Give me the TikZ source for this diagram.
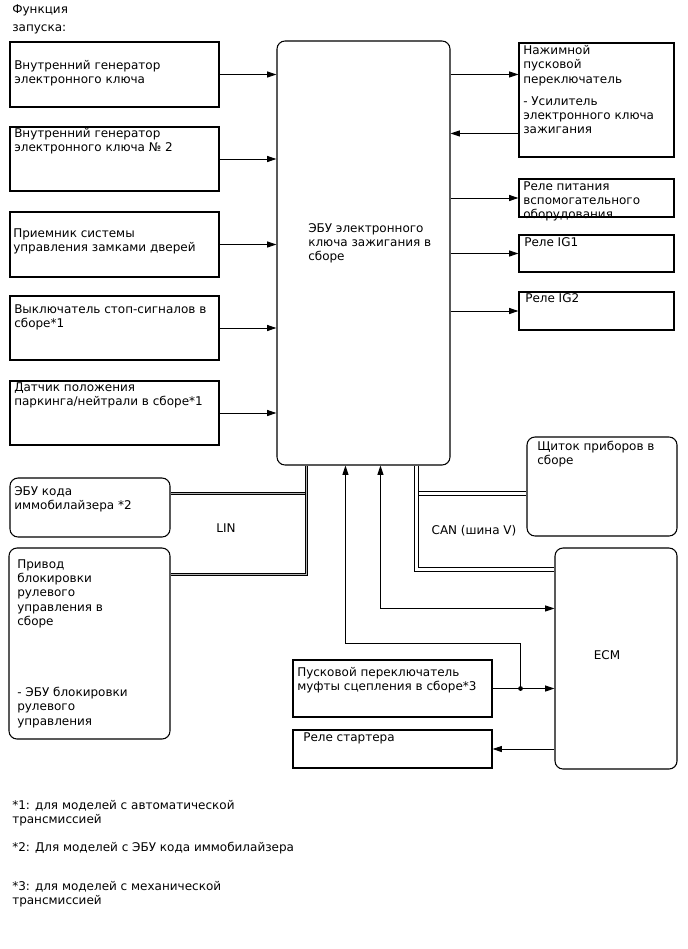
\documentclass[tikz,border=0pt]{standalone}
\usepackage{fontspec}
\setmainfont{DejaVu Sans}
\usetikzlibrary{arrows.meta,fit,calc}

\begin{document}
\begin{tikzpicture}[x=0.75pt,y=-0.75pt,
  font=\fontsize{9}{10.8}\selectfont,
  box/.style={draw,line width=0.8pt,inner sep=0pt},
  rbox/.style={box,rounded corners=6pt},
  txt/.style={anchor=north west,align=left,inner sep=0pt},
  arr/.style={line width=0.7pt,-{Triangle[length=7pt,width=4.5pt]}},
  arrboth/.style={line width=0.7pt,{Triangle[length=7pt,width=4.5pt]}-{Triangle[length=7pt,width=4.5pt]}},
  linbus/.style={draw=black,double=gray!60,double distance=1.2pt,line width=0.8pt},
  canbus/.style={draw=black,double=white,double distance=1.8pt,line width=0.8pt}]
  \useasboundingbox (0,0) rectangle (688,949);

  % boxes
  \node[box,fit={(10,42) (219,107)}] (gen1) {};
  \node[box,fit={(10,127) (219,191)}] (gen2) {};
  \node[box,fit={(10,212) (219,277)}] (rcv) {};
  \node[box,fit={(10,296) (219,360)}] (stop) {};
  \node[box,fit={(10,381) (219,445)}] (park) {};
  \node[rbox,fit={(277,41) (450,465)}] (ecu) {};
  \node[box,fit={(519,43) (674,157)}] (push) {};
  \node[box,fit={(519,179) (674,217)}] (acc) {};
  \node[box,fit={(519,235) (674,272)}] (ig1) {};
  \node[box,fit={(519,292) (674,330)}] (ig2) {};
  \node[rbox,fit={(10,478) (170,537)}] (imm) {};
  \node[rbox,fit={(9,548) (170,739)}] (lock) {};
  \node[rbox,fit={(527,437) (677,536)}] (cluster) {};
  \node[rbox,fit={(555,548) (677,769)}] (ecm) {};
  \node[box,fit={(293,660) (492,717)}] (clutch) {};
  \node[box,fit={(293,730) (492,768)}] (starter) {};

  % texts
  \node[txt] (title) at (12,4) {Функция\\[3pt]запуска:};
  \node[txt] (gen1t) at (14,60) {Внутренний генератор\\электронного ключа};
  \node[txt] (gen2t) at (14,128) {Внутренний генератор\\электронного ключа № 2};
  \node[txt] (rcvt) at (13,228) {Приемник системы\\управления замками дверей};
  \node[txt] (stopt) at (14,304) {Выключатель стоп-сигналов в\\сборе*1};
  \node[txt] (parkt) at (14,382) {Датчик положения\\паркинга/нейтрали в сборе*1};
  \node[txt] (ecut) at (308,223) {ЭБУ электронного\\ключа зажигания в\\сборе};
  \node[txt] (pusht) at (523,45) {Нажимной\\пусковой\\переключатель\\[5.6pt]- Усилитель\\электронного ключа\\зажигания};
  \node[txt] (acct) at (523,181) {Реле питания\\вспомогательного\\оборудования};
  \node[txt] (ig1t) at (524,237) {Реле IG1};
  \node[txt] (ig2t) at (525,293) {Реле IG2};
  \node[txt] (immt) at (14,486) {ЭБУ кода\\иммобилайзера *2};
  \node[txt] (lockt) at (17,559) {Привод\\блокировки\\рулевого\\управления в\\сборе};
  \node[txt] (lockecu) at (17,687) {- ЭБУ блокировки\\рулевого\\управления};
  \node[txt] (clustert) at (537,441) {Щиток приборов в\\сборе};
  \node (ecmt) at (607,655) {ECM};
  \node[txt] (clutcht) at (297,667) {Пусковой переключатель\\муфты сцепления в сборе*3};
  \node[txt] (startert) at (303,732) {Реле стартера};
  \node (lint) at (226,528) {LIN};
  \node (cant) at (474,531) {CAN (шина V)};
  \node[txt] (fn1) at (12,800) {*1: для моделей с автоматической\\трансмиссией};
  \node[txt] (fn2) at (12,842) {*2: Для моделей с ЭБУ кода иммобилайзера};
  \node[txt] (fn3) at (12,881) {*3: для моделей с механической\\трансмиссией};

  % connection points
  \coordinate (pushin) at ($(push.north west)+(0,32)$);
  \coordinate (pushout) at ($(push.north west)+(0,91)$);
  \coordinate (limm) at ($(imm.north east)+(0,16)$);
  \coordinate (llock) at ($(lock.north east)+(0,27)$);
  \coordinate (ltop) at ($(ecu.south west)+(30,0)$);
  \coordinate (cantop) at ($(ecu.south west)+(140,0)$);
  \coordinate (cancl) at ($(cluster.north west)+(0,57)$);
  \coordinate (canecm) at ($(ecm.north west)+(0,22)$);
  \coordinate (eecm) at ($(ecm.north west)+(0,61)$);
  \coordinate (ecux) at ($(ecu.south west)+(104,0)$);
  \coordinate (ecuy) at ($(ecu.south west)+(69,0)$);
  \coordinate (jn) at ($(clutch.east)+(28,0)$);
  \coordinate (jmid) at ($(ecuy)+(0,178)$);

  % inputs
  \draw[arr] (gen1.east) -- (gen1.east -| ecu.west);
  \draw[arr] (gen2.east) -- (gen2.east -| ecu.west);
  \draw[arr] (rcv.east) -- (rcv.east -| ecu.west);
  \draw[arr] (stop.east) -- (stop.east -| ecu.west);
  \draw[arr] (park.east) -- (park.east -| ecu.west);

  % outputs
  \draw[arr] (ecu.east |- pushin) -- (pushin);
  \draw[arr] (pushout) -- (ecu.east |- pushout);
  \draw[arr] (ecu.east |- acc.west) -- (acc.west);
  \draw[arr] (ecu.east |- ig1.west) -- (ig1.west);
  \draw[arr] (ecu.east |- ig2.west) -- (ig2.west);

  % buses
  \draw[linbus] (ltop |- limm) -- (limm);
  \draw[linbus] (ltop) |- (llock);
  \draw[canbus] (cantop |- cancl) -- (cancl);
  \draw[canbus] (cantop) |- (canecm);

  % ECM side
  \draw[arrboth] (ecux) |- (eecm);
  \draw[arr] (clutch.east) -- (clutch.east -| ecm.west);
  \fill (jn) circle (2.4);
  \draw[arr] (jn) -- (jn |- jmid) -- (jmid) -- (ecuy);
  \draw[arr] (starter.east -| ecm.west) -- (starter.east);
\end{tikzpicture}
\end{document}
